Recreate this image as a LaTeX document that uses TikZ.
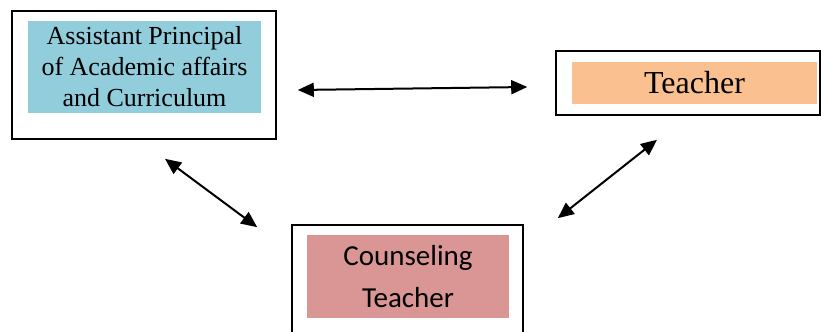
\documentclass[tikz,border=0pt]{standalone}
\usepackage{fontspec}
\setmainfont{Liberation Serif}
\newfontfamily\calibri{Carlito}
\usepackage{tikz}
\usetikzlibrary{positioning}
\usetikzlibrary{arrows.meta}
\definecolor{apblue}{HTML}{92CDDC}
\definecolor{teachorange}{HTML}{FAC090}
\definecolor{counspink}{HTML}{D99694}
\begin{document}
\begin{tikzpicture}[x=1pt,y=-1pt,
	outerbox/.style={draw,line width=1.6pt,inner sep=0pt},
	innerbox/.style={inner sep=0pt,align=center},
	link/.style={{Triangle[length=16pt,width=14pt]}-{Triangle[length=16pt,width=14pt]},line width=2pt}]
		\useasboundingbox (0,0) rectangle (822,332);
		\node[outerbox,minimum width=264pt,minimum height=128pt] (ap) at (144,75) {};
		\node[innerbox,fill=apblue,minimum width=233pt,minimum height=92pt,font=\fontsize{26}{31}\selectfont] (apin) at (144.5,67) {Assistant Principal\\of Academic affairs\\and Curriculum};
		\node[outerbox,minimum width=264pt,minimum height=64pt] (teach) at (688,83) {};
		\node[innerbox,fill=teachorange,minimum width=245pt,minimum height=42pt,font=\fontsize{32}{38}\selectfont] (teachin) at (694.5,83) {Teacher};
		\node[outerbox,minimum width=231pt,minimum height=111pt] (couns) at (407.5,280.5) {};
		\node[innerbox,fill=counspink,minimum width=202pt,minimum height=83pt,font=\calibri\fontsize{29}{42}\selectfont] (counsin) at (408,276.5) {Counseling\\Teacher};
		% links
		\draw[link] ([xshift=21pt,yshift=-15pt]ap.east) -- ([xshift=-28pt,yshift=-4pt]teach.west);
		\draw[link] ([xshift=21pt,yshift=-19pt]ap.south) -- ([xshift=-34pt,yshift=-3pt]couns.north west);
		\draw[link] ([xshift=-31pt,yshift=-24pt]teach.south) -- ([xshift=34pt,yshift=6pt]couns.north east);
\end{tikzpicture}
\end{document}
